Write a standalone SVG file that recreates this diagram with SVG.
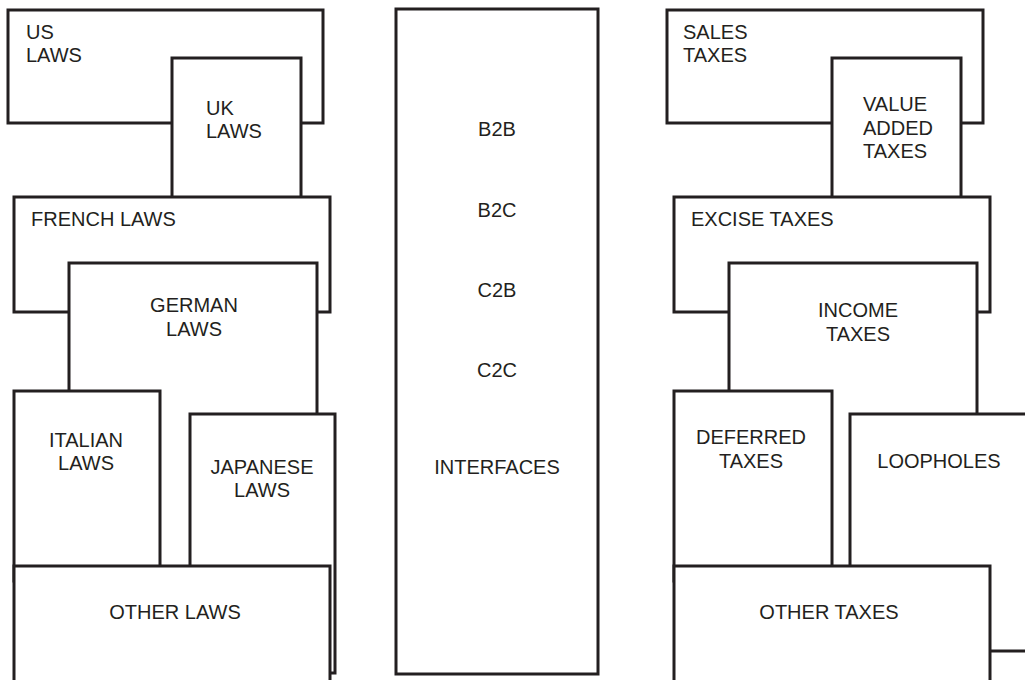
<svg xmlns="http://www.w3.org/2000/svg" width="1025" height="680" viewBox="0 0 1025 680">
<style>
rect.b{fill:#fff;stroke:#231f20;stroke-width:3}
line.c{stroke:#231f20;stroke-width:3}
text{font-family:"Liberation Sans",Arial,sans-serif;font-size:20px;fill:#231f20}
text.m{text-anchor:middle}
</style>
<rect width="1025" height="680" fill="#fff"/>
<g id="connectors">
<line class="c" x1="160" y1="469" x2="190" y2="469"/>
<line class="c" x1="832" y1="469" x2="850" y2="469"/>
</g>
<g id="us"><rect class="b" x="8" y="10" width="315" height="113"/><text x="26" y="39">US</text><text x="26" y="62">LAWS</text></g>
<g id="uk"><rect class="b" x="172" y="58" width="129" height="150"/><text x="206" y="115">UK</text><text x="206" y="138">LAWS</text></g>
<g id="french"><rect class="b" x="14" y="197" width="316" height="115"/><text x="31" y="226">FRENCH LAWS</text></g>
<g id="german"><rect class="b" x="69" y="263" width="248" height="340"/><text class="m" x="194" y="312">GERMAN</text><text class="m" x="194" y="336">LAWS</text></g>
<g id="italian"><rect class="b" x="14" y="391" width="146" height="190"/><text class="m" x="86" y="447">ITALIAN</text><text class="m" x="86" y="470">LAWS</text></g>
<g id="japanese"><rect class="b" x="190" y="414" width="145" height="259"/><text class="m" x="262" y="474">JAPANESE</text><text class="m" x="262" y="497">LAWS</text></g>
<g id="otherlaws"><rect class="b" x="14" y="566" width="316" height="130"/><text class="m" x="175" y="619">OTHER LAWS</text></g>

<g id="middle"><rect class="b" x="396" y="9" width="202" height="665"/>
<text class="m" x="497" y="136">B2B</text><text class="m" x="497" y="217">B2C</text><text class="m" x="497" y="297">C2B</text><text class="m" x="497" y="377">C2C</text><text class="m" x="497" y="474">INTERFACES</text></g>

<g id="sales"><rect class="b" x="667" y="10" width="316" height="113"/><text x="683" y="39">SALES</text><text x="683" y="62">TAXES</text></g>
<g id="vat"><rect class="b" x="832" y="58" width="129" height="150"/><text x="863" y="111">VALUE</text><text x="863" y="135">ADDED</text><text x="863" y="158">TAXES</text></g>
<g id="excise"><rect class="b" x="674" y="197" width="316" height="115"/><text x="691" y="226">EXCISE TAXES</text></g>
<g id="income"><rect class="b" x="729" y="263" width="248" height="340"/><text class="m" x="858" y="317">INCOME</text><text class="m" x="858" y="341">TAXES</text></g>
<g id="deferred"><rect class="b" x="674" y="391" width="158" height="190"/><text class="m" x="751" y="444">DEFERRED</text><text class="m" x="751" y="468">TAXES</text></g>
<g id="loopholes"><rect class="b" x="850" y="414" width="190" height="237"/><text class="m" x="939" y="468">LOOPHOLES</text></g>
<g id="othertaxes"><rect class="b" x="674" y="566" width="316" height="130"/><text class="m" x="829" y="619">OTHER TAXES</text></g>
</svg>
